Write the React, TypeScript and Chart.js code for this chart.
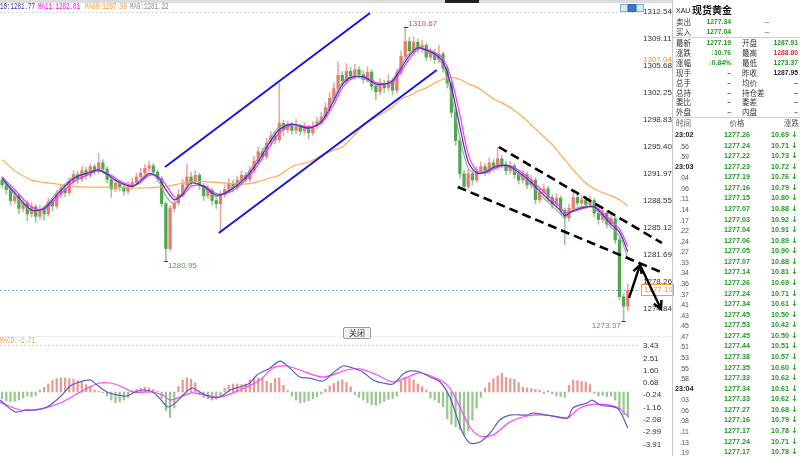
import React, { useEffect, useRef } from "react";
import { Chart, registerables } from "chart.js";

Chart.register(...registerables);
Chart.defaults.font.family = '"Liberation Sans", Arial, sans-serif';

// ---------------- data ----------------
const firstOpen = 1291.2;
const closes = [
  1290.6, 1290.0, 1288.6, 1289.2, 1287.6, 1288.3, 1286.9, 1287.8, 1286.6, 1287.5,
  1286.9, 1288.4, 1287.9, 1289.4, 1290.1, 1289.6, 1291.0, 1291.9, 1291.3, 1292.4,
  1291.8, 1292.9, 1292.3, 1293.4, 1292.6, 1291.3, 1290.1, 1290.8, 1290.3, 1289.8,
  1290.5, 1290.9, 1291.6, 1292.1, 1292.7, 1293.0, 1292.2, 1291.4, 1288.2, 1282.5,
  1287.6, 1288.3, 1289.4, 1290.6, 1291.6, 1291.0, 1291.8, 1290.5, 1289.2, 1289.9,
  1288.6, 1288.2, 1289.3, 1290.0, 1290.8, 1290.3, 1291.2, 1291.8, 1291.3, 1292.4,
  1293.6, 1294.8, 1294.2, 1295.9, 1296.8, 1296.3, 1298.4, 1297.6, 1298.1, 1297.5,
  1298.0, 1297.4, 1297.9, 1297.2, 1298.0, 1298.6, 1299.2, 1300.4, 1301.6, 1302.8,
  1304.5, 1303.8, 1305.0, 1304.4, 1305.2, 1304.6, 1304.0, 1304.9, 1303.1, 1302.4,
  1303.5, 1302.9, 1303.8, 1302.6, 1304.8, 1306.9, 1308.8, 1307.6, 1308.7, 1307.9,
  1308.3, 1306.8, 1307.4, 1306.5, 1307.2, 1305.4, 1303.5, 1299.8, 1296.2, 1292.0,
  1290.4, 1292.0, 1291.2, 1292.3, 1292.9, 1292.3, 1293.4, 1292.8, 1293.9, 1293.2,
  1292.4, 1293.0, 1291.9, 1291.2, 1291.9, 1290.6, 1291.2, 1288.7, 1289.6, 1290.1,
  1289.0, 1288.2, 1288.9, 1287.4, 1286.4, 1287.6, 1289.0, 1288.3, 1288.7, 1288.1,
  1288.6, 1287.0, 1286.2, 1287.0, 1285.6, 1286.3, 1283.6, 1276.4, 1275.2, 1277.19,
];
const highs = [
  1291.6, 1291.0, 1290.3, 1289.8, 1289.5, 1288.9, 1288.6, 1288.4, 1288.1, 1288.0,
  1287.9, 1288.9, 1288.8, 1289.9, 1290.7, 1290.6, 1291.5, 1292.4, 1292.3, 1292.9,
  1292.8, 1293.3, 1293.2, 1294.6, 1293.8, 1292.9, 1291.6, 1291.3, 1291.2, 1290.7,
  1291.0, 1291.5, 1292.1, 1292.7, 1293.2, 1293.6, 1293.3, 1292.5, 1291.7, 1288.5,
  1288.0, 1288.9, 1290.0, 1291.3, 1293.2, 1292.2, 1292.4, 1292.1, 1290.8, 1290.5,
  1290.2, 1289.0, 1289.8, 1290.6, 1291.4, 1291.2, 1291.7, 1292.4, 1292.2, 1292.9,
  1294.2, 1295.4, 1295.3, 1296.5, 1297.4, 1297.2, 1303.5, 1298.8, 1298.7, 1298.5,
  1298.9, 1298.3, 1298.5, 1298.2, 1298.6, 1299.2, 1299.8, 1301.0, 1302.3, 1303.5,
  1306.2, 1305.0, 1306.0, 1305.5, 1305.9, 1305.6, 1305.1, 1305.6, 1305.2, 1303.5,
  1304.1, 1303.9, 1304.6, 1304.1, 1305.3, 1307.6, 1310.67, 1309.3, 1309.4, 1309.1,
  1308.9, 1308.6, 1308.0, 1307.8, 1308.3, 1307.5, 1305.7, 1303.8, 1300.2, 1296.6,
  1292.4, 1292.6, 1292.4, 1292.9, 1293.5, 1293.3, 1294.0, 1293.8, 1295.4, 1294.3,
  1293.6, 1293.6, 1293.3, 1292.3, 1292.5, 1292.2, 1291.8, 1291.5, 1290.2, 1290.7,
  1290.4, 1289.4, 1289.5, 1289.2, 1287.7, 1288.2, 1289.9, 1289.4, 1289.3, 1289.1,
  1289.2, 1288.9, 1287.4, 1287.6, 1287.3, 1286.9, 1286.6, 1283.9, 1276.8, 1278.0,
];
const lows = [
  1290.2, 1289.4, 1288.0, 1288.2, 1286.9, 1287.2, 1286.0, 1286.5, 1285.8, 1286.2,
  1286.1, 1286.6, 1287.3, 1287.6, 1289.0, 1289.1, 1289.3, 1290.6, 1290.8, 1291.0,
  1291.3, 1291.5, 1291.9, 1292.0, 1292.1, 1290.8, 1289.0, 1289.7, 1289.8, 1289.3,
  1289.4, 1290.1, 1290.6, 1291.2, 1291.8, 1292.3, 1291.8, 1291.0, 1287.8, 1280.95,
  1282.2, 1287.2, 1288.0, 1289.1, 1290.3, 1290.5, 1290.7, 1290.0, 1288.6, 1288.9,
  1288.0, 1287.6, 1284.5, 1289.0, 1289.7, 1289.8, 1290.0, 1290.9, 1290.9, 1291.0,
  1292.1, 1293.3, 1293.8, 1293.9, 1295.5, 1295.8, 1296.0, 1296.8, 1297.2, 1297.0,
  1297.1, 1296.9, 1297.0, 1296.4, 1296.9, 1297.7, 1298.2, 1298.9, 1300.0, 1301.2,
  1302.4, 1303.2, 1303.4, 1303.9, 1304.0, 1304.1, 1303.5, 1303.6, 1302.6, 1301.4,
  1302.0, 1302.3, 1302.5, 1302.0, 1302.3, 1304.5, 1306.6, 1307.1, 1307.2, 1307.3,
  1307.4, 1306.3, 1306.4, 1306.0, 1306.1, 1304.9, 1302.9, 1299.2, 1295.6, 1291.4,
  1289.9, 1290.1, 1290.6, 1290.9, 1292.0, 1291.8, 1292.0, 1292.3, 1292.5, 1292.7,
  1291.9, 1292.0, 1291.4, 1290.7, 1290.8, 1290.1, 1290.2, 1288.2, 1288.3, 1289.2,
  1288.5, 1287.6, 1287.8, 1286.8, 1283.0, 1286.0, 1287.3, 1287.9, 1287.9, 1287.6,
  1287.7, 1286.5, 1285.6, 1285.8, 1285.1, 1285.2, 1283.1, 1276.0, 1273.37, 1274.6,
];

const priceTicks = [1274.84, 1278.26, 1281.69, 1285.12, 1288.55, 1291.97, 1295.40, 1298.83, 1302.25, 1305.68, 1309.11, 1312.54];
const priceMin = 1272.17;
const priceMax = 1312.79;
const xMin = -0.5;
const xMax = 151.9;

const maIdx = [0, 3, 7, 10, 13, 17, 21, 23, 26, 28, 31, 33, 35, 37, 39, 41, 43, 45, 48, 51, 54, 58, 61, 64, 66, 69, 73, 76, 79, 81, 83, 86, 89, 91, 93, 95, 97, 99, 101, 103, 105, 107, 109, 111, 113, 115, 117, 119, 121, 124, 126, 128, 131, 133, 134, 136, 139, 141, 143, 145, 147, 149];
const ma10 = [1291.4, 1289.6, 1287.4, 1287.6, 1289.3, 1291.4, 1292.2, 1292.5, 1291.6, 1290.9,
  1290.4, 1291.1, 1292.0, 1291.6, 1290.0, 1288.7, 1289.4, 1290.8, 1290.4, 1289.3,
  1289.8, 1291.5, 1293.6, 1296.2, 1297.6, 1298.3, 1297.8, 1298.6, 1301.3, 1303.3,
  1304.2, 1304.3, 1303.4, 1303.4, 1303.8, 1305.4, 1307.0, 1308.0, 1307.7, 1307.2,
  1306.2, 1303.0, 1298.0, 1293.5, 1292.1, 1292.2, 1292.8, 1293.1, 1292.9, 1291.8,
  1290.9, 1289.8, 1288.3, 1287.3, 1286.7, 1287.3, 1287.8, 1287.8, 1286.8, 1285.6,
  1284.6, 1282.1];
const ma11 = [1291.6, 1290.0, 1287.8, 1287.5, 1288.9, 1291.0, 1292.0, 1292.4, 1291.8, 1291.1,
  1290.5, 1290.9, 1291.8, 1291.7, 1290.6, 1289.1, 1289.2, 1290.4, 1290.5, 1289.5,
  1289.6, 1291.2, 1293.2, 1295.7, 1297.2, 1298.2, 1298.0, 1298.4, 1300.8, 1302.9,
  1304.0, 1304.4, 1303.6, 1303.4, 1303.6, 1305.0, 1306.6, 1307.8, 1307.8, 1307.4,
  1306.6, 1304.0, 1299.5, 1294.5, 1292.4, 1292.1, 1292.6, 1293.0, 1293.0, 1292.1,
  1291.2, 1290.2, 1288.7, 1287.7, 1287.1, 1287.2, 1287.7, 1287.9, 1287.1, 1286.0,
  1285.0, 1282.8];
const ma9 = [1291.2, 1289.3, 1287.2, 1287.8, 1289.6, 1291.6, 1292.3, 1292.5, 1291.4, 1290.8,
  1290.4, 1291.3, 1292.1, 1291.3, 1289.2, 1288.2, 1289.6, 1291.0, 1290.2, 1289.1,
  1290.0, 1291.8, 1294.0, 1296.6, 1297.9, 1298.3, 1297.7, 1298.9, 1301.7, 1303.6,
  1304.3, 1304.1, 1303.2, 1303.4, 1304.0, 1305.8, 1307.3, 1308.1, 1307.5, 1307.0,
  1305.7, 1302.0, 1296.6, 1292.7, 1292.0, 1292.4, 1293.0, 1293.1, 1292.7, 1291.5,
  1290.6, 1289.4, 1287.9, 1286.9, 1286.5, 1287.5, 1287.9, 1287.6, 1286.5, 1285.2,
  1284.1, 1281.3];
const ma60 = [1293.8, 1292.4, 1291.2, 1290.9, 1290.7, 1290.4, 1290.3, 1290.3, 1290.3, 1290.3,
  1290.2, 1290.2, 1290.2, 1290.3, 1290.4, 1290.6, 1290.8, 1291.0, 1291.0, 1290.9,
  1290.8, 1290.7, 1291.0, 1291.5, 1291.8, 1292.9, 1293.5, 1294.3, 1295.0, 1295.4,
  1296.4, 1298.1, 1299.2, 1299.8, 1300.5, 1301.5, 1301.9, 1302.5, 1302.9, 1303.5,
  1304.0, 1304.2, 1304.0, 1303.4, 1303.0, 1302.3, 1301.5, 1301.0, 1300.4, 1299.2,
  1298.2, 1297.2, 1295.7, 1294.4, 1293.8, 1292.5, 1290.8, 1290.1, 1289.6, 1289.2,
  1288.7, 1287.9];

const macdHist = [
  -0.5, -0.65, -0.7, -0.7, -0.6, -0.45, -0.3, -0.35, -0.25, 0.15,
  0.35, 0.6, 0.85, 1.0, 1.05, 1.05, 1.0, 0.95, 0.85, 0.7,
  0.55, 0.4, 0.15, 0.05, -0.05, -0.3, -0.6, -0.8, -0.75, -0.6,
  -0.4, 0.1, 0.2, 0.3, 0.35, 0.3, 0.2, 0.05, -0.5, -1.4,
  -1.9, -1.2, 0.4, 0.9, 1.05, 0.95, 0.7, -0.2, -0.4, -0.5,
  -0.6, -0.55, -0.3, 0.3, 0.5, 0.6, 0.6, 0.55, 0.6, 0.9,
  1.05, 1.05, 1.0, 0.8, 0.65, 1.0, 1.05, 0.5, 0.1, -0.3,
  -0.6, -0.8, -0.75, -0.65, -0.5, -0.35, -0.15, 0.2, 0.45, 0.65,
  0.8, 0.9, 0.7, 0.4, -0.2, -0.4, -0.6, -0.8, -0.95, -1.0,
  -0.85, -0.7, -0.55, -0.5, -0.3, 0.8, 1.1, 1.05, 0.9, 0.6,
  0.4, 0.15, -0.45, -0.6, -0.8, -1.1, -2.0, -2.4, -2.6, -2.8,
  -3.2, -2.9, -2.1, -1.2, -0.4, 0.3, 0.7, 1.0, 1.2, 1.4,
  1.1, 1.0, 0.95, 0.7, 0.35, 0.3, 0.25, 0.2, 0.15, -0.1,
  0.1, -0.15, -0.3, -0.35, -0.4, 0.5, 0.9, 0.85, 0.8, 0.75,
  0.55, -0.1, -0.3, -0.25, -0.35, -0.3, -0.6, -1.3, -1.7, -1.9,
];
const difIdx = [-0.5, 3.1, 5.9, 8.3, 10.7, 13.8, 16.2, 17.8, 20.9, 22.6, 25.0, 27.4, 29.7, 31.6, 33.5, 35.9, 38.3, 39.5, 41.2, 43.1, 45.2, 47.1, 49.5, 51.9, 54.3, 56.6, 59.0, 60.7, 63.8, 66.2, 68.5, 70.9, 73.3, 76.4, 78.8, 81.2, 83.5, 85.9, 88.3, 90.7, 93.1, 95.5, 97.1, 99.5, 101.9, 104.3, 106.6, 108.3, 109.7, 111.4, 113.8, 116.2, 118.5, 120.9, 125.0, 126.4, 129.7, 132.8, 134.7, 135.9, 139.3, 140.5, 142.4, 146.4, 147.6, 149.0];
const difVals = [-0.60, -1.49, -1.34, -1.34, -1.12, -0.37, 0.45, 0.67, 0.90, 0.52, 0, -0.22, -0.30, 0, 0.15, 0, -0.75, -1.12, -0.82, -0.22, 0.30, 0, -0.37, -0.37, 0.15, 0.37, 0.67, 1.27, 1.79, 2.31, 1.79, 1.12, 1.04, 0.82, 1.42, 1.94, 1.79, 1.49, 0.90, 0.67, 0.60, 1.34, 1.57, 1.49, 1.12, 0.75, -0.37, -1.87, -3.06, -3.81, -3.73, -3.06, -2.09, -1.72, -1.72, -1.57, -1.72, -1.87, -1.94, -1.19, -0.82, -0.60, -0.97, -1.19, -1.72, -2.69];
const deaIdx = [-0.5, 4.3, 7.4, 10.2, 13.8, 17.4, 20.9, 23.3, 25.7, 28.1, 31.2, 35.2, 38.3, 40.0, 42.4, 45.2, 48.3, 51.9, 56.6, 61.4, 64.5, 67.8, 70.9, 76.4, 82.1, 85.2, 89.3, 93.1, 97.1, 99.5, 104.3, 106.6, 109.0, 111.4, 113.8, 116.9, 120.9, 125.0, 129.7, 134.5, 137.6, 141.6, 146.4, 149.0];
const deaVals = [-0.75, -1.34, -1.34, -1.19, -0.82, -0.22, 0.37, 0.67, 0.67, 0.45, 0, 0, -0.22, -0.60, -0.37, -0.07, -0.22, -0.37, 0.15, 0.90, 1.79, 1.94, 1.64, 1.12, 1.64, 1.72, 1.27, 0.75, 1.19, 1.42, 0.90, 0.30, -1.12, -2.61, -3.28, -3.21, -2.24, -1.79, -1.72, -1.94, -1.19, -0.90, -1.12, -1.79];
const macdTicks = [-3.91, -2.99, -2.08, -1.16, -0.24, 0.68, 1.60, 2.51, 3.43];
const macdMin = -4.776;
const macdMax = 3.881;

// drawn trend lines (candle index, price)
const blueUpper = [[38.8, 1292.86], [87.6, 1312.41]];
const blueLower = [[51.6, 1284.49], [103.5, 1305.18]];
const dashUpper = [[118.3, 1295.40], [157.1, 1283.22]];
const dashLower = [[108.5, 1290.33], [157.4, 1279.41]];
const arrowPath = [[149.3, 1276.24], [151.9, 1280.42], [156.9, 1274.84]];
const markedLows = [1280.95, 1273.37];
const axisMarkPrice = 1307.04;

const headerLabels = ["10:1281.77", "MA11:1282.01", "MA60:1287.99", "MA9:1281.22"];
const headerColors = ["#333399", "#ff00ff", "#ff9933", "#888888"];
const macdLabel = "MACD:-1.71";

const bidAskLabels = ["卖出", "买入"];
const bidAskValues = ["1277.34", "1277.04"];
const statLabelsL = ["最新", "涨跌", "涨幅", "现手", "总手", "总持", "委比", "外盘"];
const statValuesL = ["1277.19", "↓10.76", "↓0.84%", "–", "–", "–", "–", "–"];
const statLabelsR = ["开盘", "最高", "最低", "昨收", "均价", "持仓差", "委差", "内盘"];
const statValuesR = ["1287.91", "1288.80", "1273.37", "1287.95", "–", "–", "–", "–"];
const tickTimes = ["23:02", ".56", ".59", "23:03", ".04", ".06", ".11", ".14", ".17", ".22", ".24", ".27", ".33", ".34", ".36", ".37", ".41", ".43", ".45", ".47", ".51", ".53", ".55", ".58", "23:04", ".03", ".06", ".08", ".11", ".13", ".19"];
const tickPrices = ["1277.26", "1277.24", "1277.22", "1277.23", "1277.19", "1277.16", "1277.15", "1277.07", "1277.03", "1277.04", "1277.06", "1277.05", "1277.07", "1277.14", "1277.26", "1277.24", "1277.34", "1277.45", "1277.53", "1277.45", "1277.44", "1277.38", "1277.35", "1277.33", "1277.34", "1277.33", "1277.27", "1277.16", "1277.17", "1277.24", "1277.17"];
const tickChanges = ["10.69", "10.71", "10.73", "10.72", "10.76", "10.79", "10.80", "10.88", "10.92", "10.91", "10.89", "10.90", "10.88", "10.81", "10.69", "10.71", "10.61", "10.50", "10.42", "10.50", "10.51", "10.57", "10.60", "10.62", "10.61", "10.62", "10.68", "10.79", "10.78", "10.71", "10.78"];

// ---------------- styles ----------------
const GREEN = "#1f9a1f";
const RED = "#e02a2a";
const UP_BODY = "#e87a74";
const DOWN_BODY = "#4fa84f";
const UP_WICK = "#f0a8a4";
const DOWN_WICK = "#98cc98";
const CJK = '"Noto Sans CJK SC", "Liberation Sans", sans-serif';
const LAT = '"Liberation Sans", Arial, sans-serif';
const MONO = '"Liberation Mono", "DejaVu Sans Mono", monospace';

const opens = closes.map((c, i) => (i === 0 ? firstOpen : closes[i - 1]));
const isUp = closes.map((c, i) => c >= opens[i]);

function MainChart() {
  const ref = useRef<HTMLCanvasElement>(null);
  useEffect(() => {
    const overlay = {
      id: "overlay",
      beforeDatasetsDraw(chart: any) {
        const { ctx: g, chartArea: a, scales } = chart;
        const y = scales.y;
        g.save();
        g.lineWidth = 1;
        g.setLineDash([2, 2]);
        const yt = Math.round(y.getPixelForValue(priceTicks[priceTicks.length - 1])) + 0.5;
        g.strokeStyle = "#d4d4d4";
        g.beginPath(); g.moveTo(a.left, yt); g.lineTo(a.right, yt); g.stroke();
        const yc = Math.round(y.getPixelForValue(closes[closes.length - 1])) + 0.5;
        g.strokeStyle = "#6aa8e6";
        g.beginPath(); g.moveTo(a.left, yc); g.lineTo(a.right, yc); g.stroke();
        g.restore();
      },
      afterDatasetsDraw(chart: any) {
        const { ctx: g, chartArea: a, scales } = chart;
        const x = scales.x, y = scales.y;
        const P = (pt: number[]) => [x.getPixelForValue(pt[0]), y.getPixelForValue(pt[1])];
        g.save();
        const seg = (pts: number[][], color: string, w: number, dash: number[]) => {
          g.strokeStyle = color; g.lineWidth = w; g.setLineDash(dash);
          g.beginPath();
          pts.forEach((pt, k) => { const [px, py] = P(pt); if (k === 0) g.moveTo(px, py); else g.lineTo(px, py); });
          g.stroke();
        };
        const head = (from: number[], to: number[]) => {
          const [x0, y0] = P(from); const [x1, y1] = P(to);
          const ang = Math.atan2(y1 - y0, x1 - x0);
          const L = 9, s = 0.5;
          g.setLineDash([]); g.lineWidth = 2.4; g.strokeStyle = "#000";
          g.beginPath();
          g.moveTo(x1 - L * Math.cos(ang - s), y1 - L * Math.sin(ang - s));
          g.lineTo(x1, y1);
          g.lineTo(x1 - L * Math.cos(ang + s), y1 - L * Math.sin(ang + s));
          g.stroke();
        };
        seg(blueUpper, "#1414f0", 2, []);
        seg(blueLower, "#1414f0", 2, []);
        seg(dashUpper, "#000", 2.6, [9, 5]);
        seg(dashLower, "#000", 2.6, [9, 5]);

        // high / low marks
        g.setLineDash([]);
        g.font = "8px " + LAT;
        let hi = 0;
        highs.forEach((h, i) => { if (h > highs[hi]) hi = i; });
        {
          const px = x.getPixelForValue(hi), py = y.getPixelForValue(highs[hi]);
          g.strokeStyle = "#333"; g.lineWidth = 1;
          g.beginPath(); g.moveTo(px - 1, Math.round(py) + 0.5); g.lineTo(px + 3, Math.round(py) + 0.5); g.stroke();
          g.fillStyle = "#e04545"; g.textAlign = "left"; g.textBaseline = "bottom";
          g.fillText(highs[hi].toFixed(2), px + 3, py + 1);
        }
        markedLows.forEach((v, k) => {
          const i = lows.indexOf(v);
          const px = x.getPixelForValue(i), py = y.getPixelForValue(v);
          g.strokeStyle = "#333"; g.lineWidth = 1;
          g.beginPath(); g.moveTo(px - 2, Math.round(py) + 0.5); g.lineTo(px + 2, Math.round(py) + 0.5); g.stroke();
          g.fillStyle = "#4f9f4f"; g.textBaseline = "top";
          if (k === 0) { g.textAlign = "left"; g.fillText(v.toFixed(2), px + 2, py + 1); }
          else { g.textAlign = "right"; g.fillText(v.toFixed(2), px - 3, py + 1); }
        });

        // axis markers
        const last = closes[closes.length - 1];
        const yc = Math.round(y.getPixelForValue(last));
        g.fillStyle = "#fff";
        g.fillRect(a.right + 1.5, yc - 5.5, 32, 11);
        g.strokeStyle = "#ff9a2e"; g.lineWidth = 1;
        g.strokeRect(a.right + 1.5, yc - 5.5, 32, 11);
        g.fillStyle = "#ff8c1a"; g.textAlign = "left"; g.textBaseline = "middle";
        g.fillText(last.toFixed(2), a.right + 4, yc);
        g.fillText(axisMarkPrice.toFixed(2), a.right + 3, y.getPixelForValue(axisMarkPrice) + 4);

        seg(arrowPath, "#000", 2.4, []);
        head(arrowPath[0], arrowPath[1]);
        head(arrowPath[1], arrowPath[2]);
        g.restore();
      },
    };

    const maLine = (vals: number[], color: string, w: number, order: number) => ({
      type: "line" as const,
      data: maIdx.map((xi, k) => ({ x: xi, y: vals[k] })),
      borderColor: color,
      borderWidth: w,
      pointRadius: 0,
      tension: 0.3,
      order,
    });

    const chart = new Chart(ref.current!, {
      type: "bar",
      data: {
        datasets: [
          {
            type: "bar",
            data: closes.map((c, i) => ({ x: i, y: [lows[i], highs[i]] })) as any,
            backgroundColor: isUp.map((u) => (u ? UP_WICK : DOWN_WICK)),
            barThickness: 1,
            grouped: false,
            order: 10,
          },
          {
            type: "bar",
            data: closes.map((c, i) => ({ x: i, y: [opens[i], c] })) as any,
            backgroundColor: isUp.map((u) => (u ? UP_BODY : DOWN_BODY)),
            barThickness: 2.6,
            grouped: false,
            order: 9,
          },
          maLine(ma60, "#ffa94d", 1.2, 4) as any,
          maLine(ma9, "#a0a0a0", 1.1, 3) as any,
          maLine(ma11, "#ff33ff", 1.2, 2) as any,
          maLine(ma10, "#3a3aa8", 1.2, 1) as any,
        ],
      },
      options: {
        animation: false,
        responsive: false,
        maintainAspectRatio: false,
        events: [],
        layout: { padding: { top: 10, bottom: 10, left: 0, right: 0 } },
        plugins: { legend: { display: false }, tooltip: { enabled: false } },
        scales: {
          x: { type: "linear", min: xMin, max: xMax, offset: false, display: false },
          y: {
            type: "linear",
            position: "right",
            min: priceMin,
            max: priceMax,
            afterBuildTicks: (s: any) => { s.ticks = priceTicks.map((v) => ({ value: v })); },
            afterFit: (s: any) => { s.width = 50; },
            ticks: { autoSkip: false, padding: 3, color: "#333", font: { size: 8 }, callback: (v: any) => Number(v).toFixed(2) },
            grid: { display: false, drawTicks: false },
            border: { display: false },
          },
        },
      },
      plugins: [overlay],
    });
    return () => chart.destroy();
  }, []);
  return <canvas ref={ref} width={690} height={340} style={{ position: "absolute", left: 0, top: 0, width: 690, height: 340 }} />;
}

function MacdChart() {
  const ref = useRef<HTMLCanvasElement>(null);
  useEffect(() => {
    const overlay = {
      id: "macdOverlay",
      beforeDatasetsDraw(chart: any) {
        const { ctx: g, chartArea: a, scales } = chart;
        g.save();
        g.setLineDash([2, 2]); g.lineWidth = 1; g.strokeStyle = "#d4d4d4";
        const yt = Math.round(scales.y.getPixelForValue(macdTicks[macdTicks.length - 1])) - 0.5;
        g.beginPath(); g.moveTo(a.left, yt); g.lineTo(a.right, yt); g.stroke();
        g.restore();
      },
    };
    const chart = new Chart(ref.current!, {
      type: "bar",
      data: {
        datasets: [
          {
            type: "bar",
            data: macdHist.map((v, i) => ({ x: i, y: v })) as any,
            backgroundColor: macdHist.map((v) => (v >= 0 ? "#e89a92" : "#98c890")),
            barThickness: 1.6,
            order: 5,
          },
          {
            type: "line",
            data: deaIdx.map((xi, k) => ({ x: xi, y: deaVals[k] })) as any,
            borderColor: "#ff44ff", borderWidth: 1.2, pointRadius: 0, tension: 0.3, order: 2,
          },
          {
            type: "line",
            data: difIdx.map((xi, k) => ({ x: xi, y: difVals[k] })) as any,
            borderColor: "#5c5cc4", borderWidth: 1.2, pointRadius: 0, tension: 0.3, order: 1,
          },
        ],
      },
      options: {
        animation: false,
        responsive: false,
        maintainAspectRatio: false,
        events: [],
        layout: { padding: { top: 10, bottom: 10, left: 0, right: 0 } },
        plugins: { legend: { display: false }, tooltip: { enabled: false } },
        scales: {
          x: { type: "linear", min: xMin, max: xMax, offset: false, display: false },
          y: {
            type: "linear",
            position: "right",
            min: macdMin,
            max: macdMax,
            afterBuildTicks: (s: any) => { s.ticks = macdTicks.map((v) => ({ value: v })); },
            afterFit: (s: any) => { s.width = 50; },
            ticks: { autoSkip: false, padding: 3, color: "#333", font: { size: 8 }, callback: (v: any) => Number(v).toFixed(2) },
            grid: { display: false, drawTicks: false },
            border: { display: false },
          },
        },
      },
      plugins: [overlay],
    });
    return () => chart.destroy();
  }, []);
  return <canvas ref={ref} width={690} height={136} style={{ position: "absolute", left: 0, top: 330, width: 690, height: 136 }} />;
}

type TP = { x: number; y: number; t: string; c?: string; s?: number; b?: boolean; a?: "l" | "r" | "c"; f?: string; sx?: number };
function Tx({ x, y, t, c = "#333", s = 8, b = false, a = "l", f = LAT, sx = 1 }: TP) {
  const tx = a === "r" ? "-100%" : a === "c" ? "-50%" : "0";
  const origin = a === "r" ? "right center" : a === "c" ? "center center" : "left center";
  return (
    <div style={{ position: "absolute", left: x, top: y, transform: `translate(${tx},-50%) scaleX(${sx})`, transformOrigin: origin, color: c, fontSize: s, fontWeight: b ? "bold" : "normal", whiteSpace: "nowrap", lineHeight: 1, fontFamily: f }}>
      {t}
    </div>
  );
}

function RightPanel() {
  const rowsL = statLabelsL.map((l, k) => 43 + k * 9.9);
  const colorL = (k: number) => (k < 3 ? GREEN : k === 7 ? RED : "#444");
  const colorR = (k: number) => (k === 1 ? RED : k === 0 || k === 2 || k === 7 ? GREEN : k === 3 ? "#222" : "#444");
  return (
    <div>
      <div style={{ position: "absolute", left: 672, top: 0, width: 1, height: 456, background: "#c8c8c8" }} />
      <Tx x={676} y={10} t="XAU" s={7} c="#222" />
      <Tx x={692} y={10} t="现货黄金" s={10} b f={CJK} c="#111" />
      {bidAskLabels.map((l, k) => (
        <React.Fragment key={"ba" + k}>
          <Tx x={676} y={22 + k * 10} t={l} s={7.5} f={CJK} />
          <Tx x={731} y={22 + k * 10} t={bidAskValues[k]} c={GREEN} b a="r" sx={0.85} />
          <Tx x={767} y={22 + k * 10} t="–" c="#444" a="c" />
        </React.Fragment>
      ))}
      <div style={{ position: "absolute", left: 673, top: 37, width: 127, height: 1, background: "#d0d0d0" }} />
      {statLabelsL.map((l, k) => (
        <React.Fragment key={"st" + k}>
          <Tx x={676} y={rowsL[k]} t={l} s={7.5} f={CJK} />
          <Tx x={731} y={rowsL[k]} t={statValuesL[k]} c={colorL(k)} b a="r" sx={0.85} />
          <Tx x={742} y={rowsL[k]} t={statLabelsR[k]} s={7.5} f={CJK} />
          <Tx x={798} y={rowsL[k]} t={statValuesR[k]} c={colorR(k)} b a="r" sx={0.85} />
        </React.Fragment>
      ))}
      <div style={{ position: "absolute", left: 673, top: 117, width: 127, height: 1, background: "#d0d0d0" }} />
      <Tx x={676} y={123} t="时间" s={7.5} f={CJK} c="#555" />
      <Tx x={737} y={123} t="价格" s={7.5} f={CJK} c="#555" a="c" />
      <Tx x={784} y={123} t="涨跌" s={7.5} f={CJK} c="#555" />
      {tickTimes.map((t, k) => {
        const y = 135 + k * 10.57;
        const full = t.indexOf(":") >= 0;
        return (
          <React.Fragment key={"tk" + k}>
            {full ? <Tx x={675} y={y} t={t} b c="#222" sx={0.9} /> : <Tx x={689} y={y} t={t} s={7} c="#555" a="r" />}
            <Tx x={750} y={y} t={tickPrices[k]} c={GREEN} b a="r" sx={0.9} />
            <Tx x={789} y={y} t={tickChanges[k]} c={GREEN} b a="r" sx={0.9} />
            <Tx x={791} y={y} t="↓" c={GREEN} b s={8} f='"DejaVu Sans", sans-serif' />
          </React.Fragment>
        );
      })}
    </div>
  );
}

export default function App() {
  const headerX = [0, 38, 85, 130];
  return (
    <div style={{ position: "fixed", left: 0, top: 0, width: 800, height: 456, overflow: "hidden", background: "#fff", fontFamily: LAT }}>
      <div style={{ position: "absolute", left: 0, top: 0, width: 672, height: 3, background: "#dcdcdc" }} />
      <div style={{ position: "absolute", left: 445, top: 0, width: 34, height: 3, background: "#222" }} />
      <div style={{ position: "absolute", left: 0, top: 336, width: 672, height: 1, background: "#eeeeee" }} />
      <MainChart />
      <MacdChart />
      {headerLabels.map((t, k) => (
        <Tx key={"h" + k} x={headerX[k]} y={7} t={t} c={headerColors[k]} s={9} f={MONO} sx={0.65} />
      ))}
      <Tx x={0} y={341} t={macdLabel} c="#f0a040" s={9} f={MONO} sx={0.65} />
      <div style={{ position: "absolute", left: 620, top: 4, width: 6, height: 6, border: "1px solid #7aaee0", background: "#d8e8f8" }} />
      <div style={{ position: "absolute", left: 628, top: 4, width: 6, height: 6, border: "1px solid #2d66b0", background: "#3a78c8" }} />
      <div style={{ position: "absolute", left: 636, top: 4, width: 6, height: 6, border: "1px solid #7aaee0", background: "#d8e8f8" }} />
      <div style={{ position: "absolute", left: 343, top: 327, width: 26, height: 10, border: "1px solid #9a9a9a", borderRadius: 2, background: "#f2f2f2", fontFamily: CJK, fontSize: 8, lineHeight: "10px", textAlign: "center", color: "#333" }}>
        关闭
      </div>
      <RightPanel />
    </div>
  );
}
